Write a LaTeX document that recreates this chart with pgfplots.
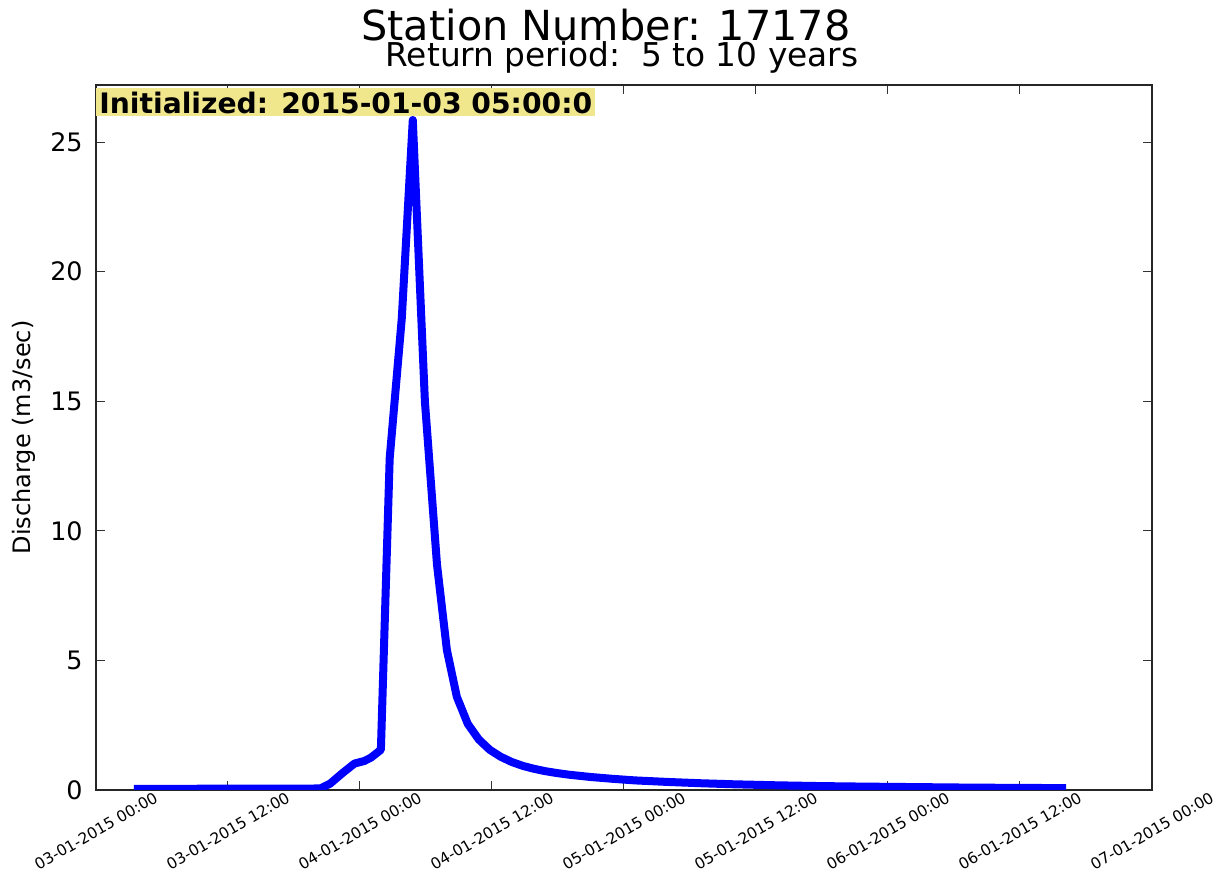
\documentclass[border=0pt]{standalone}
\usepackage{fontspec}
\setmainfont{DejaVu Sans}
\usepackage{pgfplots}
\pgfplotsset{compat=1.18}
\definecolor{khakibox}{RGB}{240,230,140}
\begin{document}
\begin{tikzpicture}
\begin{axis}[
  at={(0,0)}, anchor=south west,
  scale only axis, width=528pt, height=352.5pt,
  xmin=0, xmax=96, ymin=0, ymax=27.2,
  xtick={0,12,24,36,48,60,72,84,96},
  xticklabels={03-01-2015 00:00,03-01-2015 12:00,04-01-2015 00:00,04-01-2015 12:00,05-01-2015 00:00,05-01-2015 12:00,06-01-2015 00:00,06-01-2015 12:00,07-01-2015 00:00},
  ytick={0,5,10,15,20,25},
  tick pos=both, tick align=inside,
  major tick length=4.5pt,
  every tick/.style={black!80, line width=0.5pt},
  axis line style={line width=1.1pt, black!85},
  /pgf/number format/assume math mode=true,
  yticklabel style={font=\fontsize{12.7}{14}\selectfont, inner sep=0pt, anchor=east, xshift=-6.5pt},
  xticklabel style={font=\fontsize{7.7}{9}\selectfont, anchor=center, inner sep=0pt, yshift=-20.5pt, rotate=30},
  ylabel={Discharge (m3/sec)},
  ylabel style={font=\fontsize{12}{14}\selectfont, at={(rel axis cs:-0.0682,0.5)}, anchor=center},
]
\addplot[color={rgb,255:red,0;green,0;blue,255}, line width=4pt, line join=round, mark=none] coordinates {
(3.45,0.04)(6,0.04)(10,0.05)(14,0.05)(18,0.05)(20.4,0.06)(21.3,0.25)(22.4,0.65)(23.5,1.02)(24.4,1.12)(25.0,1.25)(25.9,1.55)
(26.7,12.8)(27.8,18.2)(28.8,25.85)(29.9,15.0)(31.0,8.7)(31.9,5.4)(32.8,3.6)(33.8,2.55)(34.8,1.95)(35.8,1.55)(36.8,1.28)
(37.8,1.08)(38.8,0.93)(39.8,0.82)(40.8,0.73)(41.8,0.66)(43,0.59)(45,0.5)(47,0.43)(49,0.37)(52,0.31)(55,0.26)(58,0.22)
(62,0.18)(66,0.15)(70,0.13)(75,0.11)(80,0.09)(85,0.08)(88.2,0.07)
};
\node[fill=khakibox, font=\bfseries\fontsize{14.1}{16}\selectfont, anchor=north west, inner xsep=1.5pt, inner ysep=1.6pt, text depth=0pt] at (rel axis cs:0,1) [yshift=-1.5pt] {Initialized: 2015-01-03 05:00:0};
\end{axis}
\node[anchor=base, font=\fontsize{20.7}{24}\selectfont] at (255pt,374.5pt) {Station Number: 17178};
\node[anchor=base, font=\fontsize{16.4}{19}\selectfont] at (263pt,361.5pt) {Return period:\ \ 5 to 10 years};
\pgfresetboundingbox
\path[use as bounding box] (-48pt,-41pt) rectangle (563.5pt,395pt);
\end{tikzpicture}
\end{document}
